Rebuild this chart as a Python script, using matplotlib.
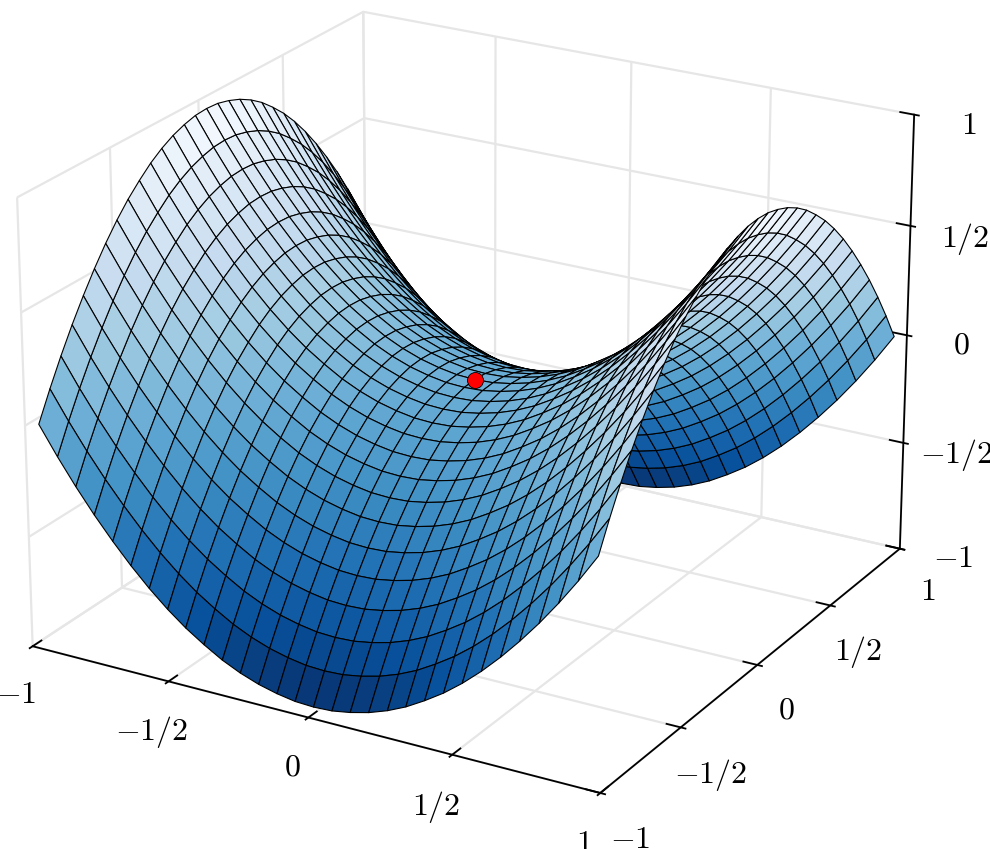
import numpy as np
import matplotlib

matplotlib.use("Agg")
import matplotlib.pyplot as plt

# sample positions of the mesh along x and y, the mesh stops just short of the +-1 ticks
grid_values = [-0.97, -0.905, -0.841, -0.776, -0.711, -0.647, -0.582, -0.517, -0.453, -0.388, -0.323,
               -0.259, -0.194, -0.129, -0.065, 0.0, 0.065, 0.129, 0.194, 0.259, 0.323, 0.388, 0.453,
               0.517, 0.582, 0.647, 0.711, 0.776, 0.841, 0.905, 0.97]
# height of the saddle's profile at those positions
profile = [0.97, 0.844, 0.729, 0.621, 0.522, 0.432, 0.349, 0.275, 0.211, 0.156, 0.107, 0.069, 0.039,
           0.018, 0.004, 0.0, 0.004, 0.018, 0.039, 0.069, 0.107, 0.156, 0.211, 0.275, 0.349, 0.432,
           0.522, 0.621, 0.729, 0.844, 0.97]
tick_values = [-1, -0.5, 0, 0.5, 1]
tick_labels = [r"$-1$", r"$-1/2$", r"$0$", r"$1/2$", r"$1$"]
saddle_point = (0, 0, 0)

plt.rcParams["mathtext.fontset"] = "cm"
plt.rcParams["font.size"] = 23

x, y = np.meshgrid(grid_values, grid_values)
p = np.asarray(profile)
z = p[np.newaxis, :] - p[:, np.newaxis]

fig = plt.figure(figsize=(9.9, 8.49), dpi=100)
ax = fig.add_axes([-0.039, -0.052, 1.01, 1.178], projection="3d", computed_zorder=False)
ax.view_init(elev=22.5, azim=-60)
ax.set_box_aspect((4, 4, 2.96))

ax.plot_surface(x, y, z, rstride=1, cstride=1, cmap="Blues_r", vmin=-0.97, vmax=0.97,
                edgecolor="black", linewidth=0.8, shade=False, zorder=1)
ax.plot([saddle_point[0]], [saddle_point[1]], [saddle_point[2]], "o", color="red",
        markeredgecolor="black", markeredgewidth=0.6, markersize=11.5, zorder=5)

for axis in (ax.xaxis, ax.yaxis, ax.zaxis):
    axis.set_pane_color((1, 1, 1, 0))
    axis.pane.set_edgecolor((1, 1, 1, 0))
    axis.line.set_color("black")
    axis.line.set_linewidth(1.3)
    axis._axinfo["grid"]["color"] = "#e6e6e6"
    axis._axinfo["grid"]["linewidth"] = 1.6
    axis._axinfo["tick"]["linewidth"] = {True: 1.3, False: 1.3}
    axis._axinfo["tick"]["color"] = "black"
    axis._axinfo["tick"]["inward_factor"] = 0.1
    axis._axinfo["tick"]["outward_factor"] = 0.3

ax.set_xlim(-1, 1)
ax.set_ylim(-1, 1)
ax.set_zlim(-1, 1)
ax.set_xticks(tick_values, tick_labels)
ax.set_yticks(tick_values, tick_labels)
ax.set_zticks(tick_values, tick_labels)
ax.tick_params(axis="x", pad=10)
ax.tick_params(axis="y", pad=11)
ax.tick_params(axis="z", pad=16)

fig.savefig("out.png", dpi=100)
